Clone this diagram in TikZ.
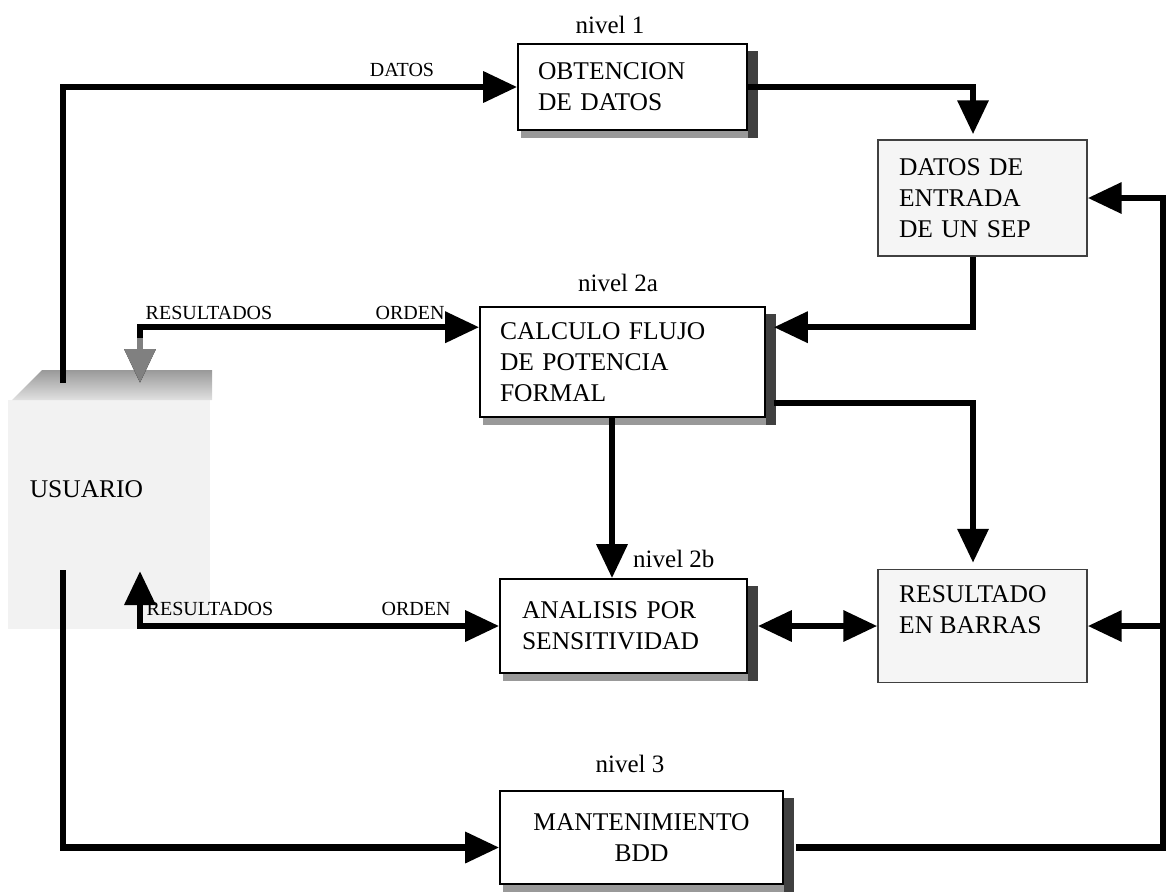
\documentclass[tikz,border=0pt]{standalone}
\usepackage{fontspec}
\setmainfont{Liberation Serif}
\usetikzlibrary{arrows.meta,calc}
\begin{document}
\begin{tikzpicture}[x=1pt,y=-1pt,
  conn/.style={line width=6.5pt, line join=miter},
  arrowend/.style={-{Triangle[length=34pt,width=30pt]}},
  bothends/.style={{Triangle[length=34pt,width=30pt]}-{Triangle[length=34pt,width=30pt]}},
  boxtext/.style={font=\fontsize{25.5}{31}\selectfont},
  procbox/.style={boxtext, draw=black, line width=1.6pt, fill=white, rectangle, inner ysep=0pt, align=left},
  databox/.style={boxtext, draw=black!75, line width=1.4pt, fill=black!4, rectangle, inner ysep=0pt, align=left},
  flowlabel/.style={font=\fontsize{20}{22}\selectfont, inner sep=0pt},
  levellabel/.style={font=\fontsize{25}{28}\selectfont, inner sep=0pt},
  rshadow/.style={fill=black!75},
  bshadow/.style={fill=black!40},
]
\useasboundingbox (0,0) rectangle (1169,892);

% user terminal: pale body with a shaded top face
\node[minimum width=202pt, minimum height=229pt, fill=black!5, inner sep=0pt] (usr) at (109,514.5) {};
\shade[top color=black!40, bottom color=black!12] (12,400) -- (42,370) -- (212,370) -- (212,400) -- cycle;
\node[boxtext] (usrlbl) at (86.5,489) {USUARIO};

% process and data boxes
\node[procbox, text width=189pt, inner xsep=20pt, minimum height=86pt] (obt) at (632.5,87) {OBTENCION\\DE DATOS};
\node[databox, text width=167pt, inner xsep=21pt, minimum height=116pt] (datos) at (982.5,198) {DATOS DE\\ENTRADA\\DE UN SEP};
\node[procbox, text width=245pt, inner xsep=20pt, minimum height=110pt] (calc) at (622.5,362) {CALCULO FLUJO\\DE POTENCIA\\FORMAL};
\node[procbox, text width=203pt, inner xsep=22pt, minimum height=94pt] (anal) at (623.5,626) {ANALISIS POR\\SENSITIVIDAD};
\node[databox, minimum width=209pt, minimum height=113pt] (res) at (982.5,626) {};
\node[boxtext, anchor=west, align=left, inner sep=0pt] (restext) at (899,610) {RESULTADO\\EN BARRAS};
\node[procbox, text width=243pt, inner xsep=20pt, minimum height=93pt, align=center] (mant) at (641.5,837.5) {MANTENIMIENTO\\BDD};

% drop shadows on the process boxes
\foreach \b in {obt,calc,anal,mant}{
  \fill[bshadow] ([xshift=4pt]\b.south west) rectangle ([yshift=-7pt]\b.south east);
  \fill[rshadow] ([yshift=-8pt]\b.north east) rectangle ([xshift=10pt,yshift=-7pt]\b.south east);
}

% free ends of the connectors at the user terminal
\coordinate (uTL) at (63,383);
\coordinate (uBL) at (63,570);
\coordinate (uTA) at (140,383);
\coordinate (uBA) at (140,571);
\coordinate (rcol) at (1163,0);

% connectors
\draw[conn, arrowend] (uTL) |- (obt.west);
\draw[conn, arrowend] (obt.east) -| ([xshift=-9.5pt,yshift=5pt]datos.north);
\draw[conn, arrowend] ([xshift=-9.5pt]datos.south) |- ([xshift=8pt,yshift=-21pt]calc.north east);
\draw[conn, arrowend] ([xshift=8pt,yshift=15pt]calc.south east) -| ([xshift=-9.5pt,yshift=6pt]res.north);
\draw[conn, arrowend] ([xshift=-10.5pt]calc.south) -- ([xshift=-10.5pt]calc.south |- anal.north);
\draw[conn, bothends] ([xshift=10pt]anal.east) -- (res.west);
\draw[conn, arrowend] ([xshift=12pt,yshift=-10pt]mant.east) -| (rcol |- datos.east) -- (datos.east);
\draw[conn, arrowend] (rcol |- res.east) -- (res.east);
\draw[conn, arrowend] (uBL) |- ([yshift=-10pt]mant.west);
\draw[conn, bothends] (uTA) |- ([yshift=-21pt]calc.north west);
\draw[conn, arrowend, draw=black!50] ($(uTA)+(0,-45)$) -- (uTA);
\draw[conn, bothends] (uBA) |- (anal.west);

% level and flow labels
\node[levellabel] (n1) at (610,25) {nivel 1};
\node[levellabel] (n2a) at (618,283) {nivel 2a};
\node[levellabel, anchor=west] (n2b) at (633,559) {nivel 2b};
\node[levellabel] (n3) at (630,764) {nivel 3};
\node[flowlabel] (lda) at (402,70) {DATOS};
\node[flowlabel] (lr1) at (209,313) {RESULTADOS};
\node[flowlabel] (lo1) at (410,313) {ORDEN};
\node[flowlabel] (lr2) at (210,609) {RESULTADOS};
\node[flowlabel] (lo2) at (416,609) {ORDEN};
\end{tikzpicture}
\end{document}
